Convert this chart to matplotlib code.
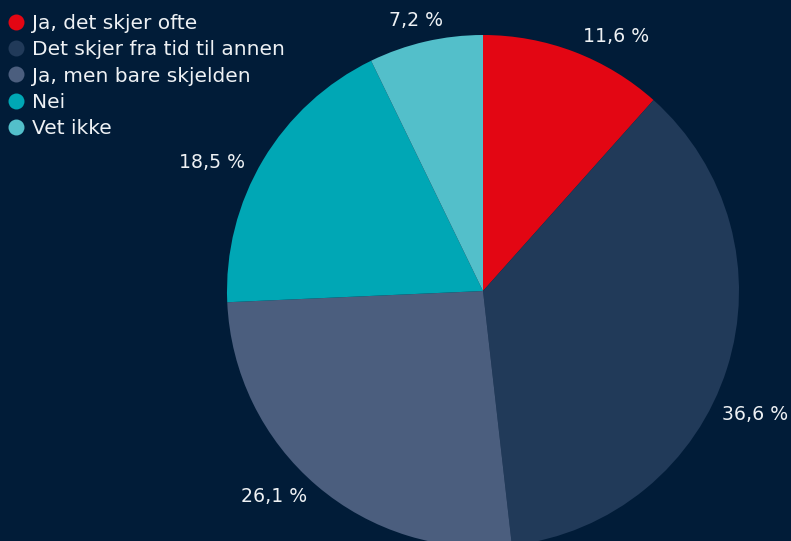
import matplotlib
matplotlib.use('Agg')
import matplotlib.pyplot as plt
from matplotlib.lines import Line2D

categories = ['Ja, det skjer ofte', 'Det skjer fra tid til annen', 'Ja, men bare skjelden', 'Nei', 'Vet ikke']
values = [11.6, 36.6, 26.1, 18.5, 7.2]
value_labels = ['11,6 %', '36,6 %', '26,1 %', '18,5 %', '7,2 %']

colors = ['#e30613', '#213a59', '#4b5e7e', '#00a7b5', '#53bfca']
bg = '#011c38'
txt = '#eef1f4'

# label anchor (pixel, from top-left) and alignment
label_pos = [(583, 37), (722, 415), (307, 497), (245, 162), (443, 20)]
label_ha = ['left', 'left', 'right', 'right', 'right']

W, H = 791, 541
plt.rcParams['font.family'] = ['DejaVu Sans']

fig = plt.figure(figsize=(W / 100, H / 100), dpi=100, facecolor=bg)
ax = fig.add_axes([0, 0, 1, 1])
ax.set_facecolor(bg)

ax.pie(values, colors=colors, startangle=90, counterclock=False,
       center=(483, H - 291), radius=256, frame=True,
       wedgeprops=dict(linewidth=0))
ax.set_xlim(0, W)
ax.set_ylim(0, H)
ax.set_aspect('equal')
ax.axis('off')

for lab, (x, y), ha in zip(value_labels, label_pos, label_ha):
    ax.text(x, H - y, lab, color=txt, fontsize=13.6, ha=ha, va='center')

handles = [Line2D([], [], marker='o', linestyle='none', markersize=11.5,
                  markerfacecolor=c, markeredgewidth=0) for c in colors]
leg = ax.legend(handles, categories, loc='upper left', bbox_to_anchor=(7, H - 14),
                bbox_transform=ax.transData,
                frameon=False, fontsize=14.5, labelcolor=txt, handlelength=0.85,
                handletextpad=0.4, labelspacing=0.36, borderpad=0, borderaxespad=0)

fig.savefig('out.png', dpi=100, facecolor=bg)
